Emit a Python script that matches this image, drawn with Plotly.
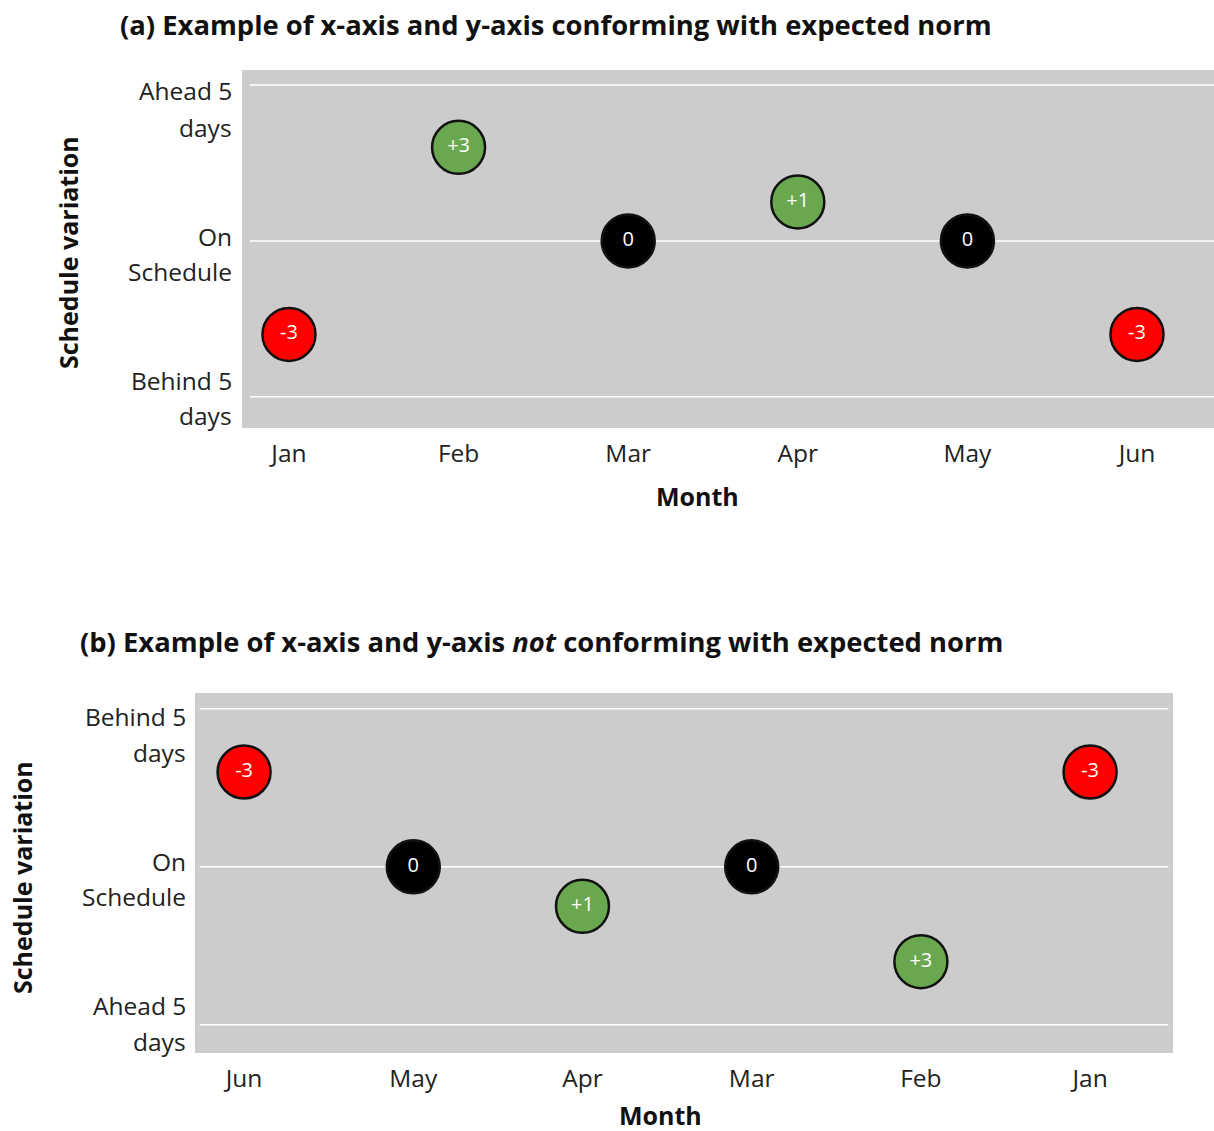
import plotly.graph_objects as go

# ---- data ----
months_a = ["Jan", "Feb", "Mar", "Apr", "May", "Jun"]
variation_a = [-3, 3, 0, 1.25, 0, -3]
labels_a = ["-3", "+3", "0", "+1", "0", "-3"]

months_b = ["Jun", "May", "Apr", "Mar", "Feb", "Jan"]
variation_b = [-3, 0, 1.25, 0, 3, -3]
labels_b = ["-3", "0", "+1", "0", "+3", "-3"]

grid_levels = [5, 0, -5]
ylabels_a = ["Ahead 5<br>days", "On<br>Schedule", "Behind 5<br>days"]
ylabels_b = ["Behind 5<br>days", "On<br>Schedule", "Ahead 5<br>days"]

title_a = "(a) Example of x-axis and y-axis conforming with expected norm"
title_b = "(b) Example of x-axis and y-axis <i>not</i> conforming with expected norm"

FONT = "Open Sans"
GREEN = "#6AA84F"
RED = "#FF0000"
BLACK = "#000000"
BG = "#CDCCCD"


def col(v):
    return GREEN if v > 0 else (RED if v < 0 else BLACK)


fig = go.Figure()

for xs_lab, vals, labs, xa, ya in [
    (months_a, variation_a, labels_a, "x", "y"),
    (months_b, variation_b, labels_b, "x2", "y2"),
]:
    idx = list(range(len(xs_lab)))
    fig.add_trace(go.Scatter(
        x=idx, y=vals, text=labs, mode="markers+text",
        textposition="middle center",
        textfont=dict(family=FONT, size=20, color="white"),
        marker=dict(size=53, color=[col(v) for v in vals],
                    line=dict(color="#111111", width=2.5)),
        xaxis=xa, yaxis=ya, showlegend=False, hoverinfo="skip",
        cliponaxis=False,
    ))

tickfont = dict(family=FONT, size=24.5, color="#222222")

fig.update_layout(
    width=1214, height=1131,
    margin=dict(l=0, r=0, t=0, b=0),
    paper_bgcolor="white",
    plot_bgcolor=BG,
    xaxis=dict(domain=[242 / 1214, 1.0], anchor="y", range=[-0.277, 5.454],
               tickvals=list(range(6)), ticktext=months_a, tickfont=tickfont,
               showgrid=False, zeroline=False, ticks="outside", ticklen=4,
               tickcolor="rgba(0,0,0,0)", showline=False),
    yaxis=dict(domain=[1 - 428 / 1131, 1 - 70 / 1131], anchor="x", range=[-6.0, 5.48],
               showgrid=False, zeroline=False, showticklabels=False, ticks=""),
    xaxis2=dict(domain=[195 / 1214, 1173 / 1214], anchor="y2", range=[-0.29, 5.49],
                tickvals=list(range(6)), ticktext=months_b, tickfont=tickfont,
                showgrid=False, zeroline=False, ticks="outside", ticklen=4,
                tickcolor="rgba(0,0,0,0)", showline=False),
    yaxis2=dict(domain=[1 - 1053 / 1131, 1 - 693 / 1131], anchor="x2", range=[5.89, -5.5],
                showgrid=False, zeroline=False, showticklabels=False, ticks=""),
)

shapes = []
for lvl in grid_levels:
    shapes.append(dict(type="line", xref="x domain", yref="y", x0=0.008, x1=1.0,
                       y0=lvl, y1=lvl, line=dict(color="white", width=1.5), layer="below"))
    shapes.append(dict(type="line", xref="x2 domain", yref="y2", x0=0.005, x1=0.995,
                       y0=lvl, y1=lvl, line=dict(color="white", width=1.5), layer="below"))
fig.update_layout(shapes=shapes)

ann = []
# y category labels (two lines each), right-aligned left of plot
line_pos_a = [(4.81, 3.65), (0.13, -0.99), (-4.49, -5.61)]
line_pos_b = [(-4.75, -3.61), (-0.16, 0.95), (4.40, 5.54)]
for labels, positions, yref, xr in [(ylabels_a, line_pos_a, "y", 234 / 1214),
                                    (ylabels_b, line_pos_b, "y2", 188 / 1214)]:
    for txt, pos in zip(labels, positions):
        for part, yv in zip(txt.split("<br>"), pos):
            ann.append(dict(text=part, xref="paper", yref=yref, x=xr, y=yv,
                            xanchor="right", yanchor="middle", align="right",
                            showarrow=False, font=tickfont))

boldfont = dict(family=FONT, size=25, color="#111111")
titlefont = dict(family=FONT, size=27.4, color="#111111")
# titles
ann.append(dict(text="<b>" + title_a + "</b>", xref="paper", yref="paper",
                x=118 / 1214, y=1 - 25 / 1131, xanchor="left", yanchor="middle",
                showarrow=False, font=titlefont))
ann.append(dict(text="<b>" + title_b + "</b>", xref="paper", yref="paper",
                x=78 / 1214, y=1 - 642 / 1131, xanchor="left", yanchor="middle",
                showarrow=False, font=titlefont))
# axis titles
ann.append(dict(text="<b>Month</b>", xref="paper", yref="paper",
                x=697 / 1214, y=1 - 496 / 1131, xanchor="center", yanchor="middle",
                showarrow=False, font=boldfont))
ann.append(dict(text="<b>Month</b>", xref="paper", yref="paper",
                x=660 / 1214, y=1 - 1115 / 1131, xanchor="center", yanchor="middle",
                showarrow=False, font=boldfont))
ann.append(dict(text="<b>Schedule variation</b>", xref="paper", yref="paper",
                x=68 / 1214, y=1 - 253 / 1131, xanchor="center", yanchor="middle",
                textangle=-90, showarrow=False, font=boldfont))
ann.append(dict(text="<b>Schedule variation</b>", xref="paper", yref="paper",
                x=22 / 1214, y=1 - 878 / 1131, xanchor="center", yanchor="middle",
                textangle=-90, showarrow=False, font=boldfont))
fig.update_layout(annotations=ann)

fig.write_html("out.html", config={"displayModeBar": False},
               post_script="document.body.style.margin='0';document.body.style.overflow='hidden';")
